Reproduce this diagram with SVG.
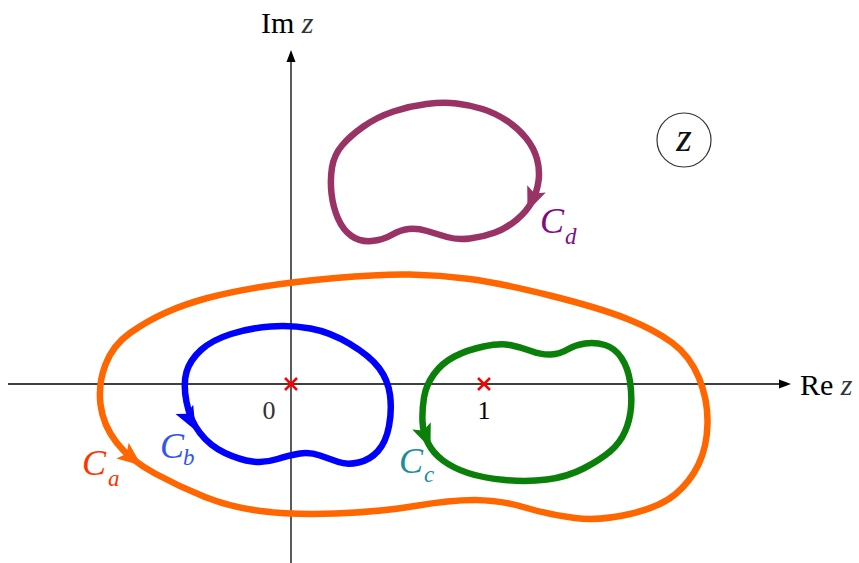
<svg xmlns="http://www.w3.org/2000/svg" width="859" height="563" viewBox="0 0 859 563">
<defs>
<style>
.ax{stroke:#000;stroke-width:1.3;fill:none}
.cv{fill:none;stroke-width:6.5;stroke-linejoin:round}
.lab{font-family:"Liberation Serif","Times New Roman",serif;font-style:italic;font-size:36px}
.sub{font-size:23px}
.rm{font-family:"Liberation Serif","Times New Roman",serif;font-size:30px;fill:#000}
.mk{stroke:#FF0000;stroke-width:2.5}
</style>
<path id="ah" d="M 12,0 L -12,-10 L -7,0 L -12,10 Z"/>
</defs>
<rect width="859" height="563" fill="#fff"/>
<g id="axes">
<line class="ax" x1="8" y1="384" x2="782" y2="384"/>
<path d="M 791,384 L 779,379.5 L 779,388.5 Z" fill="#000"/>
<line class="ax" x1="291" y1="563" x2="291" y2="60"/>
<path d="M 291,50 L 286.5,62 L 295.5,62 Z" fill="#000"/>
<text class="rm" x="261" y="33">Im <tspan font-style="italic" fill="#333">z</tspan></text>
<text class="rm" x="800" y="395">Re <tspan font-style="italic" fill="#333">z</tspan></text>
</g>
<g id="zbadge">
<circle cx="684" cy="140" r="27" fill="none" stroke="#333" stroke-width="1.2"/>
<text x="684" y="151" text-anchor="middle" font-family="Liberation Serif, serif" font-style="italic" font-size="40" fill="#111">z</text>
</g>
<g id="connectors">
<g id="Ca">
<path class="cv" stroke="#FF6600" d="M 105.5,364.5 Q 113,345 130,333 Q 147,321 166,312.5 Q 185,304 207.5,298 Q 230,292 260.5,287 Q 291,282 335.5,278 Q 380,274 410,274.5 Q 440,275 470,279 Q 500,283 550,295.5 Q 600,308 627.5,319 Q 655,330 672.5,343 Q 690,356 699,378 Q 708,400 707.5,423.5 Q 707,447 698.5,464.5 Q 690,482 675,494.5 Q 660,507 630,514 Q 600,521 575,518 Q 550,515 525,507.5 Q 500,500 475,500 Q 450,500 415,506 Q 380,512 335.5,513.5 Q 291,515 260.5,511 Q 230,507 205,497 Q 180,487 155,473.5 Q 130,460 116.5,442.5 Q 103,425 100.5,404.5 Q 98,384 105.5,364.5 Z"/>
<use href="#ah" fill="#FF6600" transform="translate(132,458) rotate(38)"/>
</g>
<g id="Cb">
<path class="cv" stroke="#0000FF" d="M 186.5,372 Q 190,360 201,350 Q 212,340 231,334 Q 250,328 270.5,326.5 Q 291,325 310.5,328.5 Q 330,332 350,344 Q 370,356 379,368 Q 388,380 390,395 Q 392,410 389,426 Q 386,442 378,451 Q 370,460 358.5,462.5 Q 347,465 338.5,462 Q 330,459 320,455.5 Q 310,452 300,453.5 Q 290,455 277.5,459 Q 265,463 252.5,461.5 Q 240,460 225,453 Q 210,446 200,433 Q 190,420 186.5,402 Q 183,384 186.5,372 Z"/>
<use href="#ah" fill="#0000FF" transform="translate(190,420) rotate(62)"/>
</g>
<g id="Cc">
<path class="cv" stroke="#0A800A" d="M 424,397.5 Q 426,385 434,374 Q 442,363 454.5,356.5 Q 467,350 483.5,346.5 Q 500,343 510,345 Q 520,347 531,351 Q 542,355 551,354.5 Q 560,354 567.5,349.5 Q 575,345 585,343.5 Q 595,342 605,345 Q 615,348 621.5,358 Q 628,368 630,381.5 Q 632,395 631,407.5 Q 630,420 625,431.5 Q 620,443 610,451.5 Q 600,460 583.5,468.5 Q 567,477 547,479.5 Q 527,482 505,480 Q 483,478 468,473 Q 453,468 443,460.5 Q 433,453 428,443 Q 423,433 422.5,421.5 Q 422,410 424,397.5 Z"/>
<use href="#ah" fill="#0A800A" transform="translate(426,437) rotate(68)"/>
</g>
<g id="Cd">
<path class="cv" stroke="#993366" stroke-width="6" d="M 332,167.5 Q 334,155 342,145.5 Q 350,136 363.5,126.5 Q 377,117 393.5,111.5 Q 410,106 426.5,104 Q 443,102 456.5,103.5 Q 470,105 482.5,109 Q 495,113 506.5,120.5 Q 518,128 526,138 Q 534,148 537,159 Q 540,170 538.5,181 Q 537,192 532,201.5 Q 527,211 517,219.5 Q 507,228 495,232.5 Q 483,237 470,238.5 Q 457,240 447,237 Q 437,234 427,231 Q 417,228 408.5,229 Q 400,230 391.5,235 Q 383,240 371.5,241 Q 360,242 351.5,236 Q 343,230 338,218.5 Q 333,207 331.5,193.5 Q 330,180 332,167.5 Z"/>
<use href="#ah" fill="#993366" transform="translate(532,200) rotate(112)"/>
</g>
</g>
<g id="poles">
<g id="p0"><line class="mk" x1="285" y1="378" x2="297" y2="390"/><line class="mk" x1="297" y1="378" x2="285" y2="390"/>
<text x="269" y="419" text-anchor="middle" font-family="Liberation Serif, serif" font-size="26" fill="#333">0</text></g>
<g id="p1"><line class="mk" x1="478" y1="378" x2="490" y2="390"/><line class="mk" x1="490" y1="378" x2="478" y2="390"/>
<text x="484" y="419" text-anchor="middle" font-family="Liberation Serif, serif" font-size="26" fill="#000">1</text></g>
</g>
<g id="labels">
<text class="lab" x="82" y="475" fill="#FF3300">C<tspan class="sub" x="108" y="486">a</tspan></text>
<text class="lab" x="160" y="458" fill="#3355EE">C<tspan class="sub" x="183" y="465">b</tspan></text>
<text class="lab" x="399" y="473" fill="#1A8F9A">C<tspan class="sub" x="424" y="482">c</tspan></text>
<text class="lab" x="540" y="233" fill="#800A80">C<tspan class="sub" x="565" y="244">d</tspan></text>
</g>
</svg>
